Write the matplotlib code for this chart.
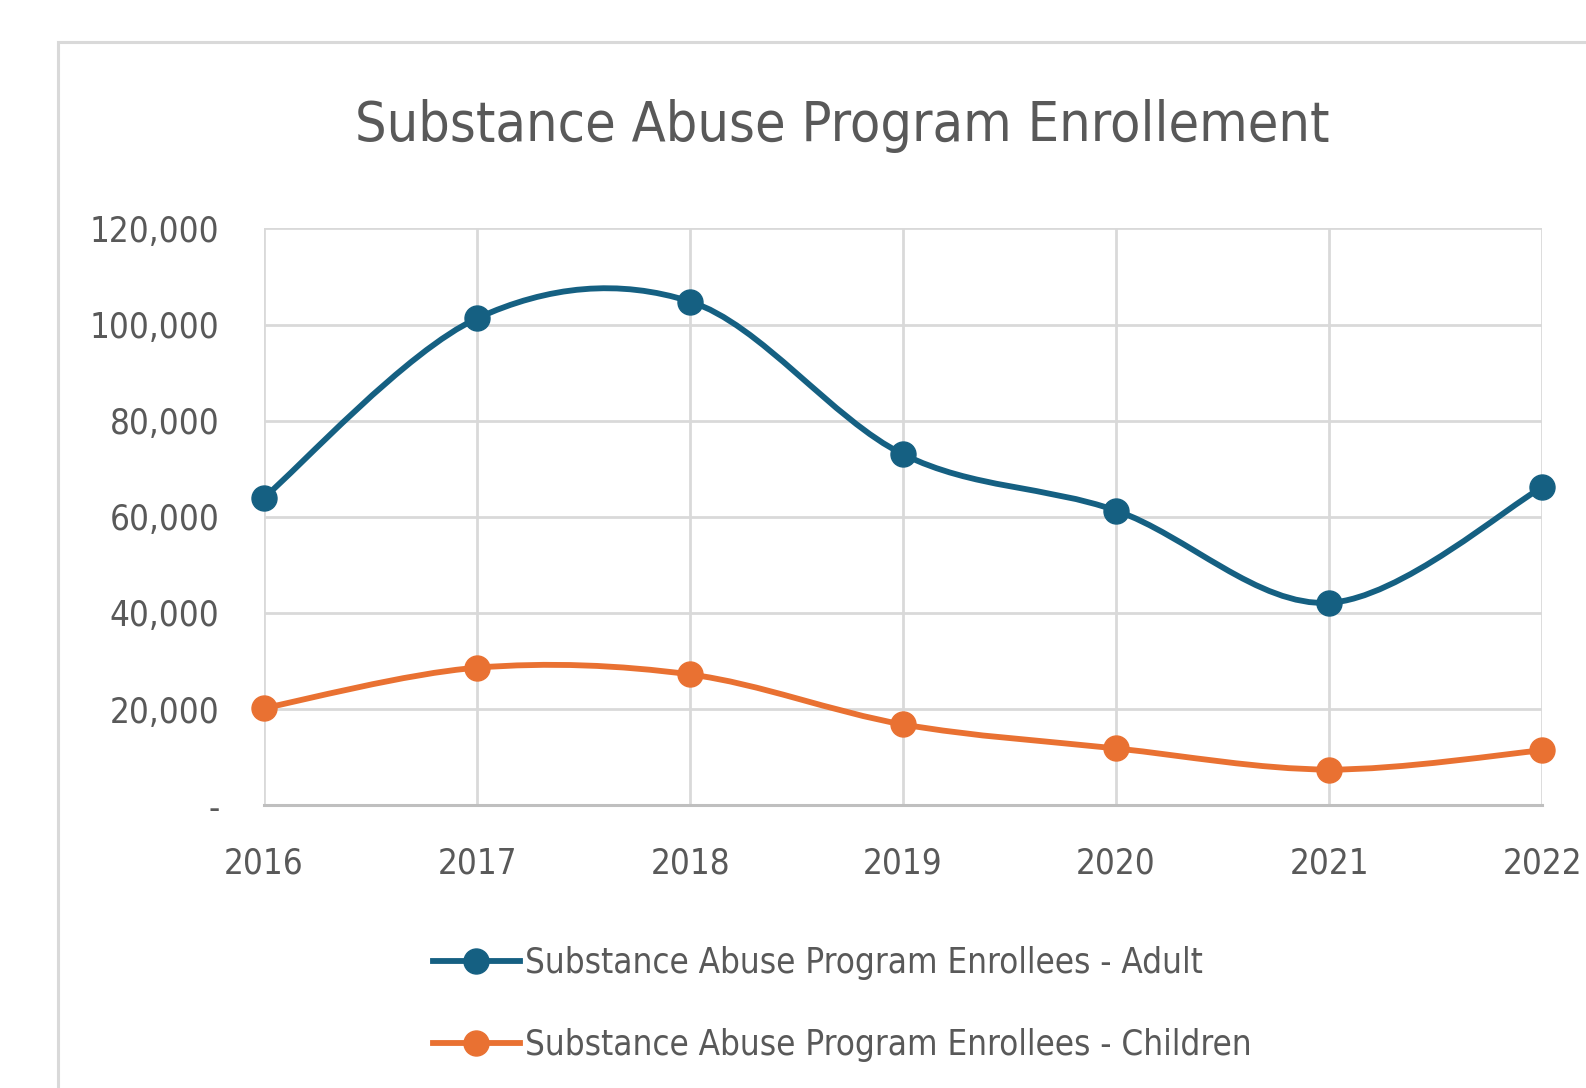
import matplotlib
matplotlib.use("Agg")
import matplotlib.pyplot as plt
from matplotlib import font_manager
from matplotlib.lines import Line2D
from matplotlib.patches import PathPatch, Rectangle
from matplotlib.path import Path
from matplotlib.ticker import FuncFormatter

# data
years = [2016, 2017, 2018, 2019, 2020, 2021, 2022]
adult = [64000, 101300, 104800, 73000, 61300, 42100, 66100]
children = [20200, 28600, 27200, 16800, 11800, 7400, 11400]
labels = ["Substance Abuse Program Enrollees - Adult",
          "Substance Abuse Program Enrollees - Children"]
title = "Substance Abuse Program Enrollement"

blue = "#156082"
orange = "#e97132"
text_grey = "#595959"
grid_grey = "#d9d9d9"

# pick a narrow font if there is one
names = {f.name for f in font_manager.fontManager.ttflist}
if "Liberation Sans Narrow" in names:
    font = dict(family="Liberation Sans Narrow")
else:
    font = dict(family="DejaVu Sans", stretch="condensed")


def smooth_path(xs, ys):
    # Excel-style smoothed line: Catmull-Rom turned into cubic beziers
    pts = list(zip(xs, ys))
    verts = [pts[0]]
    codes = [Path.MOVETO]
    n = len(pts)
    for i in range(n - 1):
        p0 = pts[max(i - 1, 0)]
        p1 = pts[i]
        p2 = pts[i + 1]
        p3 = pts[min(i + 2, n - 1)]
        c1 = (p1[0] + (p2[0] - p0[0]) / 6, p1[1] + (p2[1] - p0[1]) / 6)
        c2 = (p2[0] - (p3[0] - p1[0]) / 6, p2[1] - (p3[1] - p1[1]) / 6)
        verts += [c1, c2, p2]
        codes += [Path.CURVE4] * 3
    return Path(verts, codes)


fig = plt.figure(figsize=(15.86, 10.88), dpi=100)
ax = fig.add_axes([0.1665, 0.260, 0.8058, 0.530])

# outer chart border
fig.patches.append(Rectangle((58 / 1586, -0.1), 2, 1 - 42.5 / 1088 + 0.1,
                             transform=fig.transFigure, fill=False,
                             edgecolor=grid_grey, linewidth=2.2))

lw = 4.2
ms = 18
for vals, col in [(adult, blue), (children, orange)]:
    ax.add_patch(PathPatch(smooth_path(years, vals), facecolor="none",
                           edgecolor=col, linewidth=lw, capstyle="round",
                           zorder=3, clip_on=False))
    ax.plot(years, vals, linestyle="none", marker="o", markersize=ms,
            color=col, zorder=4, clip_on=False)

ax.set_xlim(2016, 2022)
ax.set_ylim(0, 120000)
ax.set_xticks(years)
ax.set_yticks(range(0, 120001, 20000))
ax.yaxis.set_major_formatter(FuncFormatter(lambda v, p: "-" if v == 0 else f"{int(v):,}"))

ax.grid(True, color=grid_grey, linewidth=2)
ax.set_axisbelow(True)
for side in ["top", "right", "left"]:
    ax.spines[side].set_visible(False)
ax.spines["bottom"].set_color("#bfbfbf")
ax.spines["bottom"].set_linewidth(2.2)
ax.tick_params(length=0, colors=text_grey, labelsize=25)
ax.tick_params(axis="y", pad=32)
ax.tick_params(axis="x", pad=30)
for lab in ax.get_xticklabels() + ax.get_yticklabels():
    lab.set(**font)

fig.text(842 / 1586, 1 - 126 / 1088, title, ha="center", va="center",
         fontsize=40, color=text_grey, **font)

handles = [Line2D([], [], color=blue, linewidth=lw, marker="o", markersize=ms),
           Line2D([], [], color=orange, linewidth=lw, marker="o", markersize=ms)]
leg = fig.legend(handles, labels, loc="center left",
                 bbox_to_anchor=(433 / 1586, 1 - 1004 / 1088),
                 frameon=False, borderpad=0, borderaxespad=0,
                 handlelength=2.5, handletextpad=0.15, labelspacing=1.4,
                 prop=font_manager.FontProperties(size=25, **font))
for t in leg.get_texts():
    t.set_color(text_grey)

fig.savefig("out.png", dpi=100, facecolor="white")
plt.close(fig)
